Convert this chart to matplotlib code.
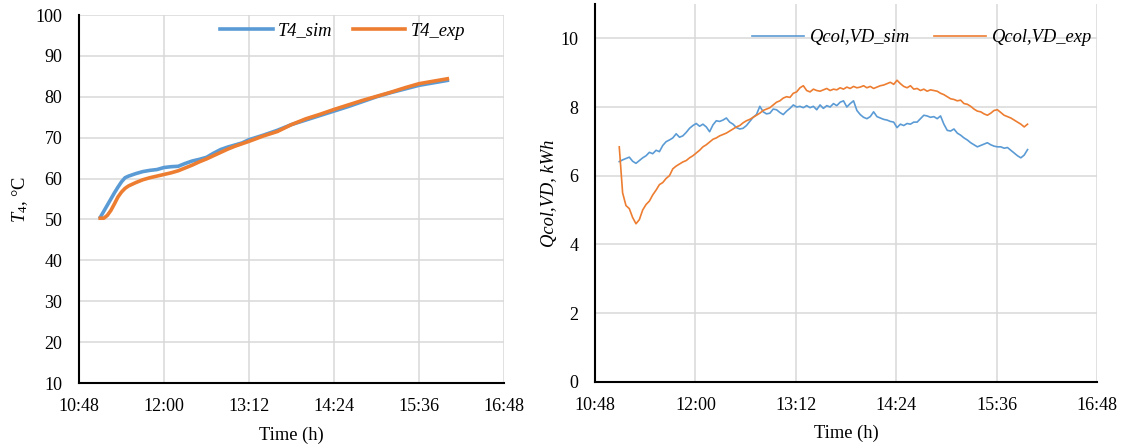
import numpy as np
import matplotlib
matplotlib.use("Agg")
import matplotlib.pyplot as plt
from matplotlib.ticker import FuncFormatter, MultipleLocator

plt.rcParams['font.family'] = ['Liberation Serif', 'DejaVu Serif']
plt.rcParams['mathtext.fontset'] = 'custom'
plt.rcParams['mathtext.rm'] = 'Liberation Serif'
plt.rcParams['mathtext.it'] = 'Liberation Serif:italic'

BLUE = '#5B9BD5'
ORANGE = '#ED7D31'
GRID = '#D9D9D9'

# left panel: tank temperature T4 (time in decimal hours)
t4_time = [11.10, 11.15, 11.20, 11.25, 11.30, 11.35, 11.40, 11.45, 11.50, 11.55,
           11.60, 11.70, 11.80, 11.90, 12.00, 12.10, 12.20, 12.30, 12.40, 12.50,
           12.60, 12.70, 12.80, 12.90, 13.00, 13.10, 13.20, 13.40, 13.60, 13.80,
           14.00, 14.20, 14.40, 14.60, 14.80, 15.00, 15.20, 15.40, 15.60, 15.80, 16.00]
t4_sim = [50.5, 52.0, 53.5, 55.0, 56.5, 57.9, 59.2, 60.2, 60.6, 60.9,
          61.2, 61.7, 62.0, 62.2, 62.7, 62.9, 63.0, 63.7, 64.3, 64.7,
          65.2, 66.2, 67.1, 67.7, 68.2, 68.7, 69.5, 70.6, 71.8, 73.2,
          74.3, 75.4, 76.5, 77.6, 78.8, 80.0, 81.0, 81.9, 82.8, 83.4, 84.0]
t4_exp = [50.3, 50.3, 51.0, 52.2, 53.8, 55.5, 56.7, 57.6, 58.2, 58.6,
          59.0, 59.7, 60.2, 60.6, 61.0, 61.4, 61.9, 62.6, 63.3, 64.1,
          64.8, 65.6, 66.4, 67.2, 67.9, 68.5, 69.1, 70.4, 71.5, 73.2,
          74.6, 75.7, 76.9, 78.0, 79.1, 80.1, 81.1, 82.2, 83.2, 83.8, 84.4]

# right panel: collector heat Qcol,VD, sampled every 0.04 h from 11.09 h
q_start, q_step = 11.09, 0.04
q_sim = [6.41, 6.46, 6.50, 6.54, 6.42, 6.36, 6.44, 6.52, 6.58, 6.68,
         6.64, 6.74, 6.70, 6.88, 6.99, 7.04, 7.10, 7.22, 7.12, 7.16,
         7.26, 7.38, 7.46, 7.52, 7.44, 7.50, 7.42, 7.28, 7.48, 7.60,
         7.58, 7.62, 7.68, 7.56, 7.50, 7.40, 7.36, 7.38, 7.46, 7.58,
         7.70, 7.78, 8.02, 7.86, 7.80, 7.82, 7.94, 7.92, 7.84, 7.78,
         7.88, 7.96, 8.06, 8.00, 8.02, 7.98, 8.04, 7.98, 8.02, 7.92,
         8.06, 7.96, 8.04, 8.00, 8.10, 8.04, 8.14, 8.18, 8.00, 8.10,
         8.18, 7.90, 7.78, 7.70, 7.66, 7.72, 7.86, 7.72, 7.68, 7.64,
         7.62, 7.58, 7.56, 7.40, 7.50, 7.46, 7.52, 7.50, 7.56, 7.56,
         7.66, 7.76, 7.74, 7.70, 7.72, 7.66, 7.74, 7.50, 7.32, 7.30,
         7.36, 7.24, 7.18, 7.10, 7.04, 6.96, 6.90, 6.84, 6.88, 6.92,
         6.96, 6.90, 6.86, 6.84, 6.84, 6.80, 6.82, 6.74, 6.66, 6.58,
         6.52, 6.60, 6.76]
q_exp = [6.84, 5.50, 5.13, 5.04, 4.78, 4.60, 4.72, 5.00, 5.16, 5.26,
         5.44, 5.58, 5.74, 5.80, 5.92, 6.00, 6.20, 6.28, 6.34, 6.40,
         6.44, 6.52, 6.58, 6.66, 6.74, 6.84, 6.90, 6.98, 7.06, 7.10,
         7.16, 7.20, 7.24, 7.30, 7.36, 7.42, 7.46, 7.54, 7.60, 7.64,
         7.70, 7.76, 7.82, 7.90, 7.94, 7.98, 8.06, 8.14, 8.18, 8.26,
         8.30, 8.28, 8.40, 8.44, 8.56, 8.62, 8.48, 8.44, 8.52, 8.48,
         8.46, 8.50, 8.54, 8.48, 8.52, 8.50, 8.56, 8.52, 8.58, 8.54,
         8.60, 8.56, 8.58, 8.62, 8.56, 8.60, 8.54, 8.58, 8.62, 8.64,
         8.68, 8.72, 8.66, 8.78, 8.68, 8.60, 8.56, 8.62, 8.52, 8.54,
         8.48, 8.52, 8.46, 8.50, 8.48, 8.46, 8.40, 8.36, 8.30, 8.24,
         8.22, 8.18, 8.20, 8.10, 8.08, 8.02, 7.94, 7.88, 7.86, 7.80,
         7.76, 7.82, 7.90, 7.92, 7.84, 7.76, 7.72, 7.68, 7.62, 7.56,
         7.50, 7.42, 7.50]
q_time = q_start + q_step * np.arange(len(q_sim))

x_ticks = [10.8, 12.0, 13.2, 14.4, 15.6, 16.8]


def hhmm(x, pos=None):
    m = int(round(x * 60))
    return f"{m // 60}:{m % 60:02d}"


W, H = 1123, 448
fig = plt.figure(figsize=(W / 100, H / 100), dpi=100)
ax1 = fig.add_axes([79 / W, 1 - 383 / H, 425 / W, 368 / H])
ax2 = fig.add_axes([595 / W, 1 - 381.7 / H, 502 / W, 377.7 / H])


def style(ax):
    ax.set_xlim(10.8, 16.8)
    ax.set_xticks(x_ticks)
    ax.xaxis.set_major_formatter(FuncFormatter(hhmm))
    ax.grid(True, color=GRID, linewidth=1.1)
    ax.set_axisbelow(True)
    for s in ['top', 'right']:
        ax.spines[s].set_visible(False)
    for s in ['left', 'bottom']:
        ax.spines[s].set_linewidth(1.5)
        ax.spines[s].set_color('black')
    ax.tick_params(axis='both', length=0, labelsize=13)
    ax.tick_params(axis='x', pad=11)
    ax.tick_params(axis='y', pad=12)
    ax.set_xlabel('Time (h)', fontsize=13.3, labelpad=8)


style(ax1)
ax1.plot(t4_time, t4_sim, color=BLUE, lw=2.6, label='T4_sim')
ax1.plot(t4_time, t4_exp, color=ORANGE, lw=2.6, label='T4_exp')
ax1.set_ylim(10, 100)
ax1.yaxis.set_major_locator(MultipleLocator(10))
ax1.set_ylabel(r'$T_4$, °C', fontsize=13.3, labelpad=4)
leg1 = ax1.legend(ncol=2, frameon=False, loc='center left',
                  bbox_to_anchor=(220 / W, 1 - 31 / H), bbox_transform=fig.transFigure,
                  borderpad=0, borderaxespad=0, handlelength=2.85, handletextpad=0.28,
                  columnspacing=1.1, prop={'style': 'italic', 'size': 13.3})

style(ax2)
ax2.plot(q_time, q_sim, color=BLUE, lw=1.2, label='Qcol,VD_sim')
ax2.plot(q_time, q_exp, color=ORANGE, lw=1.2, label='Qcol,VD_exp')
ax2.set_ylim(0, 11)
ax2.set_yticks([0, 2, 4, 6, 8, 10])
ax2.set_ylabel('Qcol,VD, kWh', fontsize=13.3, fontstyle='italic', labelpad=2)
ax2.legend(ncol=2, frameon=False, loc='center left',
           bbox_to_anchor=(752 / W, 1 - 37.7 / H), bbox_transform=fig.transFigure,
           borderpad=0, borderaxespad=0, handlelength=2.8, handletextpad=0.33,
           columnspacing=1.3, prop={'style': 'italic', 'size': 13.3})

fig.savefig('out.png', dpi=100)
